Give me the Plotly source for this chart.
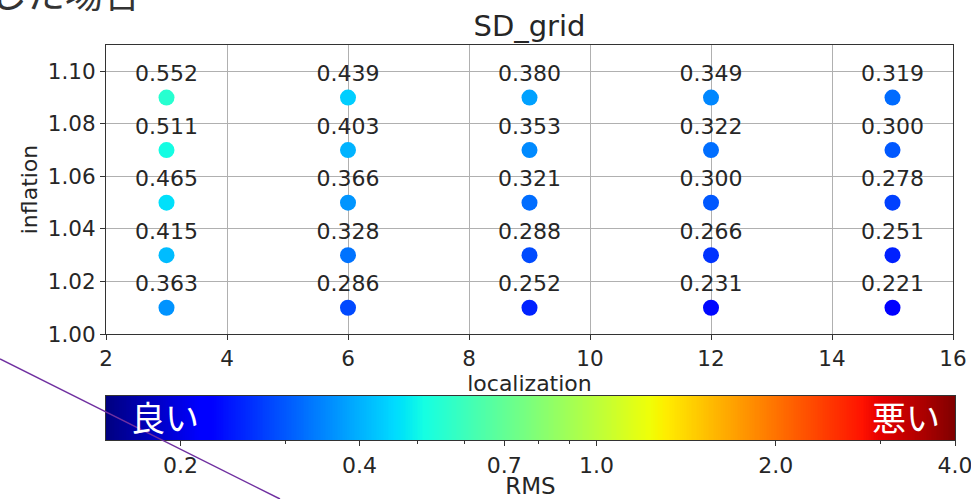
import numpy as np
import plotly.graph_objects as go

localization = [3, 6, 9, 12, 15]
inflation = [1.01, 1.03, 1.05, 1.07, 1.09]
# RMS per localization (rows) and inflation (columns)
rms_loc3 = [0.363, 0.415, 0.465, 0.511, 0.552]
rms_loc6 = [0.286, 0.328, 0.366, 0.403, 0.439]
rms_loc9 = [0.252, 0.288, 0.321, 0.353, 0.380]
rms_loc12 = [0.231, 0.266, 0.300, 0.322, 0.349]
rms_loc15 = [0.221, 0.251, 0.278, 0.300, 0.319]
rms_rows = [rms_loc3, rms_loc6, rms_loc9, rms_loc12, rms_loc15]

cbar_min, cbar_max = 0.15, 4.0
cbar_major = [0.2, 0.4, 0.7, 1.0, 2.0, 4.0]
cbar_major_text = ["0.2", "0.4", "0.7", "1.0", "2.0", "4.0"]
cbar_minor = [0.3, 0.5, 0.6, 0.8, 0.9, 3.0]

# matplotlib jet colorscale
bp = [0, 0.11, 0.125, 0.34, 0.35, 0.375, 0.64, 0.65, 0.66, 0.89, 0.91, 1.0]
r = np.interp(bp, [0, 0.35, 0.66, 0.89, 1], [0, 0, 1, 1, 0.5])
g = np.interp(bp, [0, 0.125, 0.375, 0.64, 0.91, 1], [0, 0, 1, 1, 0, 0])
b = np.interp(bp, [0, 0.11, 0.34, 0.65, 1], [0.5, 1, 1, 0, 0])
jet = [[p, f"rgb({int(round(rr*255))},{int(round(gg*255))},{int(round(bb*255))})"]
       for p, rr, gg, bb in zip(bp, r, g, b)]

xs, ys, vals = [], [], []
for loc, row in zip(localization, rms_rows):
    for inf, v in zip(inflation, row):
        xs.append(loc)
        ys.append(inf)
        vals.append(v)

W, H = 971, 499
ml, mr, mt, mb = 106, 16, 45, 59
ph = H - mt - mb   # 395
pw = W - ml - mr   # 849

def px_x(px):
    return (px - ml) / pw

def px_y(py):
    return (H - mb - py) / ph

font = "DejaVu Sans"
tc = "#262626"
lo, hi = np.log10(cbar_min), np.log10(cbar_max)

fig = go.Figure()
fig.add_trace(go.Scatter(
    x=xs, y=ys, mode="markers+text",
    text=[f"{v:.3f}" for v in vals],
    textposition="top center",
    textfont=dict(family=font, size=22, color=tc),
    marker=dict(size=16, color=np.log10(vals), colorscale=jet,
                cmin=lo, cmax=hi, line=dict(width=0), showscale=False),
    showlegend=False, cliponaxis=False,
    xaxis="x", yaxis="y",
))

# colour bar drawn as a heatmap strip on a log10 axis
cb_x = np.linspace(lo, hi, 500)
fig.add_trace(go.Heatmap(
    x=cb_x, y=[0], z=[cb_x], colorscale=jet, zmin=lo, zmax=hi,
    showscale=False, hoverinfo="skip", xaxis="x2", yaxis="y2",
))

axline = dict(showline=True, linecolor="#333", linewidth=1.2, mirror=True, zeroline=False)

fig.update_layout(
    width=W, height=H,
    margin=dict(l=ml, r=mr, t=mt, b=mb, autoexpand=False),
    paper_bgcolor="white", plot_bgcolor="white",
    font=dict(family=font, color=tc),
    title=dict(text="SD_grid", x=(ml + 847 / 2) / W, xanchor="center",
               y=1 - 26 / H, yanchor="middle",
               font=dict(family=font, size=29, color=tc)),
    xaxis=dict(domain=[0, px_x(953)], range=[2, 16],
               tickvals=[2, 4, 6, 8, 10, 12, 14, 16],
               showgrid=True, gridcolor="#b0b0b0", gridwidth=1,
               ticks="outside", ticklen=5, tickcolor="#333",
               tickfont=dict(family=font, size=21.5, color=tc),
               title=dict(text="localization", standoff=2,
                          font=dict(family=font, size=22, color=tc)),
               anchor="y", **axline),
    yaxis=dict(domain=[px_y(334), px_y(45)], range=[1.0, 1.11],
               tickvals=[1.00, 1.02, 1.04, 1.06, 1.08, 1.10], tickformat=".2f",
               showgrid=True, gridcolor="#b0b0b0", gridwidth=1,
               ticks="outside", ticklen=5, tickcolor="#333",
               tickfont=dict(family=font, size=21.5, color=tc),
               title=dict(text="inflation", standoff=4,
                          font=dict(family=font, size=22, color=tc)),
               anchor="x", **axline),
    xaxis2=dict(domain=[0, 1], range=[lo, hi], anchor="y2",
                tickmode="array",
                tickvals=[np.log10(v) for v in cbar_major],
                ticktext=cbar_major_text,
                ticklabeloverflow="allow",
                ticks="outside", ticklen=5, tickcolor="#333",
                minor=dict(tickmode="array", tickvals=[np.log10(v) for v in cbar_minor],
                           ticks="outside", ticklen=3, tickcolor="#333", showgrid=False),
                showgrid=False,
                tickfont=dict(family=font, size=22, color=tc),
                title=dict(text="RMS", standoff=0,
                           font=dict(family=font, size=23, color=tc)),
                **axline),
    yaxis2=dict(domain=[0, px_y(396)], range=[-0.5, 0.5], anchor="x2",
                showticklabels=False, ticks="", showgrid=False, **axline),
)

cjk = "Noto Sans CJK JP"
fig.add_annotation(text="良い", xref="paper", yref="paper",
                   x=px_x(165), y=px_y(416), xanchor="center", yanchor="middle",
                   showarrow=False,
                   font=dict(family=cjk, size=34, color="white"))
fig.add_annotation(text="悪い", xref="paper", yref="paper",
                   x=px_x(906), y=px_y(416), xanchor="center", yanchor="middle",
                   showarrow=False,
                   font=dict(family=cjk, size=34, color="white"))
fig.add_annotation(text="した場合", xref="paper", yref="paper",
                   x=px_x(-13), y=px_y(-9), xanchor="left", yanchor="middle",
                   showarrow=False,
                   font=dict(family=cjk, size=38, color="#333"))
fig.add_shape(type="line", xref="paper", yref="paper",
              x0=px_x(0), y0=px_y(359), x1=px_x(280), y1=px_y(499),
              line=dict(color="#7030A0", width=1.5))

fig.write_html("out.html")
